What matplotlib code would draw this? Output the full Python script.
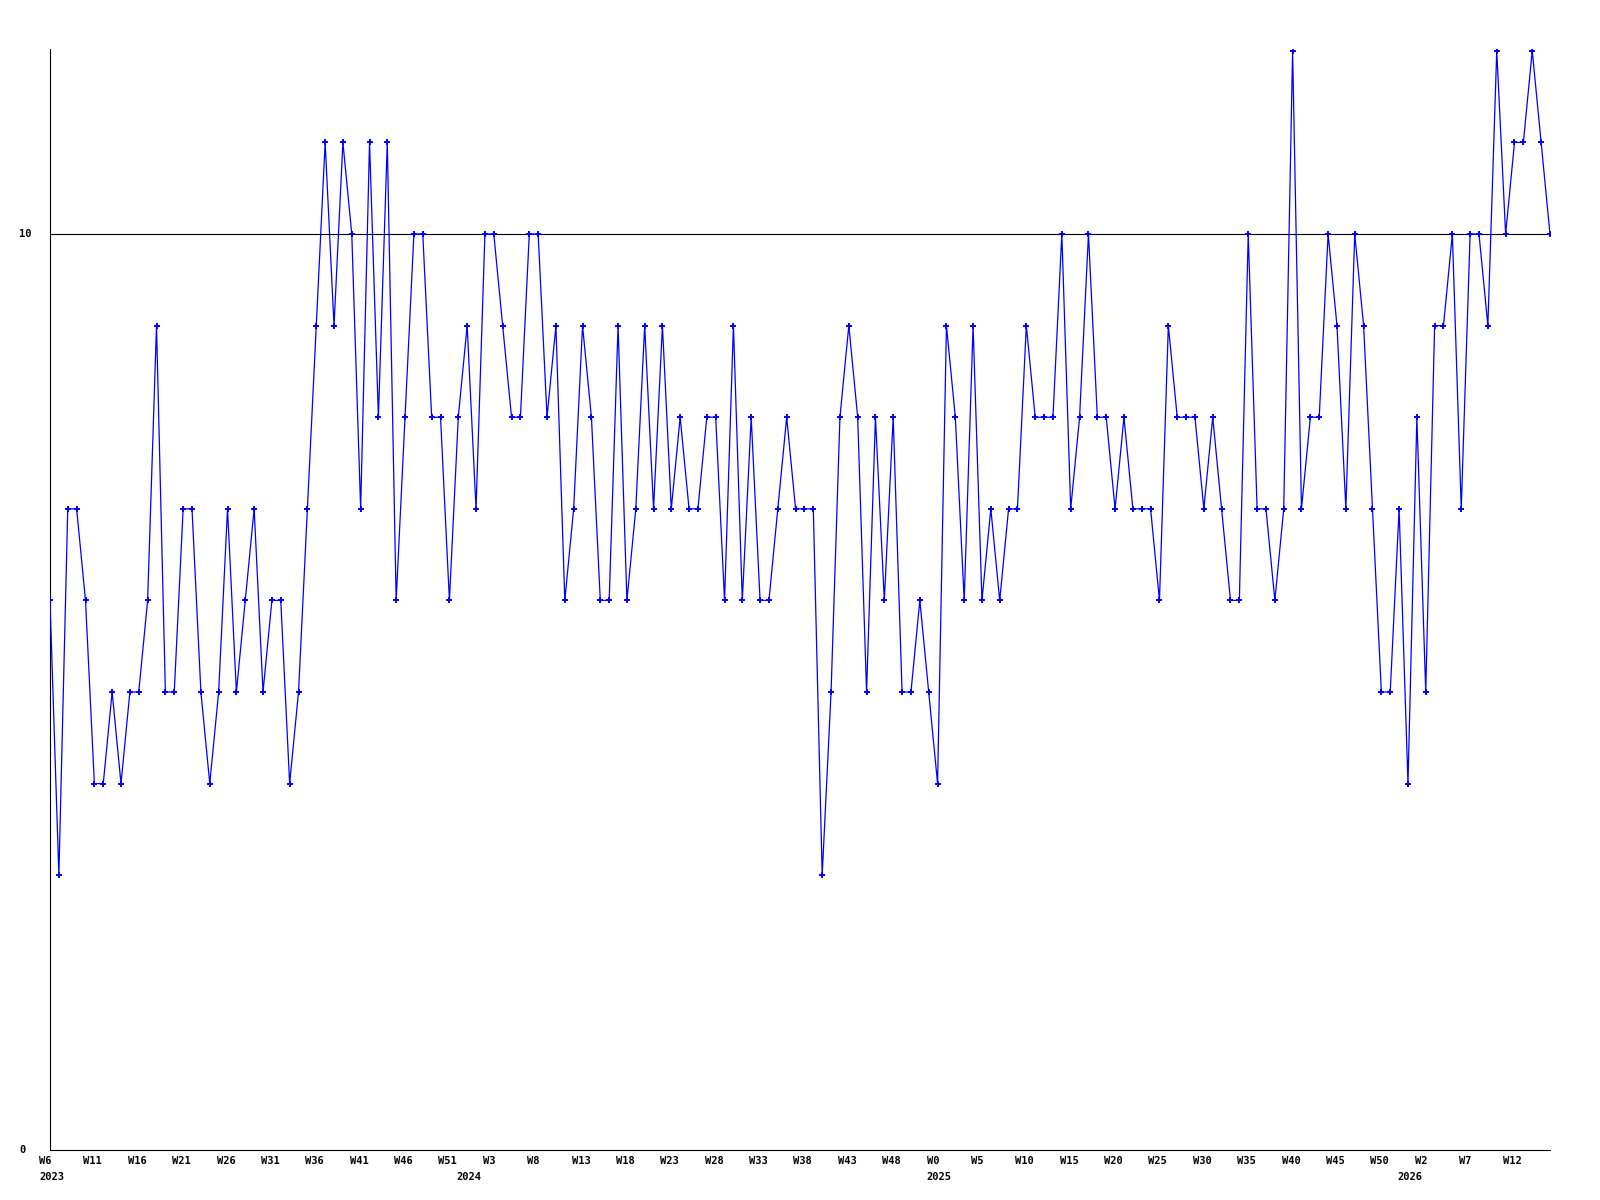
import matplotlib
matplotlib.use('Agg')
import matplotlib.pyplot as plt

# weekly values (2023 W6 .. 2026 W16)
values = [
    6, 3, 7, 7, 6, 4, 4, 5, 4, 5, 5, 6, 9, 5, 5, 7, 7, 5, 4, 5, 7, 5, 6, 7, 5, 6, 6, 4, 5,
    7, 9, 11, 9, 11, 10, 7, 11, 8, 11, 6, 8, 10, 10, 8, 8, 6, 8, 9, 7, 10, 10, 9, 8, 8, 10, 10, 8,
    9, 6, 7, 9, 8, 6, 6, 9, 6, 7, 9, 7, 9, 7, 8, 7, 7, 8, 8, 6, 9, 6, 8, 6, 6, 7, 8, 7,
    7, 7, 3, 5, 8, 9, 8, 5, 8, 6, 8, 5, 5, 6, 5, 4, 9, 8, 6, 9, 6, 7, 6, 7, 7, 9, 8, 8,
    8, 10, 7, 8, 10, 8, 8, 7, 8, 7, 7, 7, 6, 9, 8, 8, 8, 7, 8, 7, 6, 6, 10, 7, 7, 6, 7, 12,
    7, 8, 8, 10, 9, 7, 10, 9, 7, 5, 5, 7, 4, 8, 5, 9, 9, 10, 7, 10, 10, 9, 12, 10, 11, 11, 12, 11, 10,
]

years = [2023, 2024, 2025, 2026]
first_week = [6, 0, 0, 0]
last_week = [52, 52, 52, 16]

y_labels = [0, 10]
ref_level = 10


def build_weeks():
    """ One (year, week) pair per data point. """
    weeks = []
    for year, first, last in zip(years, first_week, last_week):
        for w in range(first, last + 1):
            weeks.append((year, w))
    return weeks


def plot_chart(values, weeks):
    fig = plt.figure(figsize=(16, 12), dpi=100)
    ax = fig.add_axes([50 / 1600, 50 / 1200, 1500 / 1600, 1101 / 1200])

    x = list(range(len(values)))
    ax.plot(x, values, color='#0000ff', lw=0.9, marker='+', markersize=4,
            markeredgewidth=1.4, zorder=3)
    ax.axhline(ref_level, color='black', lw=0.8, zorder=2)

    ax.set_xlim(0, len(values) - 1)
    ax.set_ylim(0, 12.02)
    ax.set_xticks([])
    ax.set_yticks([])
    for side in ['top', 'right']:
        ax.spines[side].set_visible(False)
    for side in ['left', 'bottom']:
        ax.spines[side].set_color('black')
        ax.spines[side].set_linewidth(0.8)

    font = dict(family='DejaVu Sans Mono', weight='bold', size=7.5)

    # week labels every 5 points, year label on the first point of each year
    prev_year = None
    for i, (year, w) in enumerate(weeks):
        if i % 5 == 0:
            ax.annotate(f'W{w}', xy=(i, 0), xycoords=('data', 'axes fraction'),
                        xytext=(-11, -11), textcoords='offset pixels',
                        ha='left', va='center', **font)
        if year != prev_year:
            ax.annotate(str(year), xy=(i, 0), xycoords=('data', 'axes fraction'),
                        xytext=(-11, -27), textcoords='offset pixels',
                        ha='left', va='center', **font)
            prev_year = year

    for v in y_labels:
        ax.annotate(str(v), xy=(0, v), xycoords=('axes fraction', 'data'),
                    xytext=(-31, 0), textcoords='offset pixels',
                    ha='left', va='center', **font)

    fig.savefig('out.png', dpi=100)


def main():
    weeks = build_weeks()
    plot_chart(values, weeks)


if __name__ == '__main__':
    main()
